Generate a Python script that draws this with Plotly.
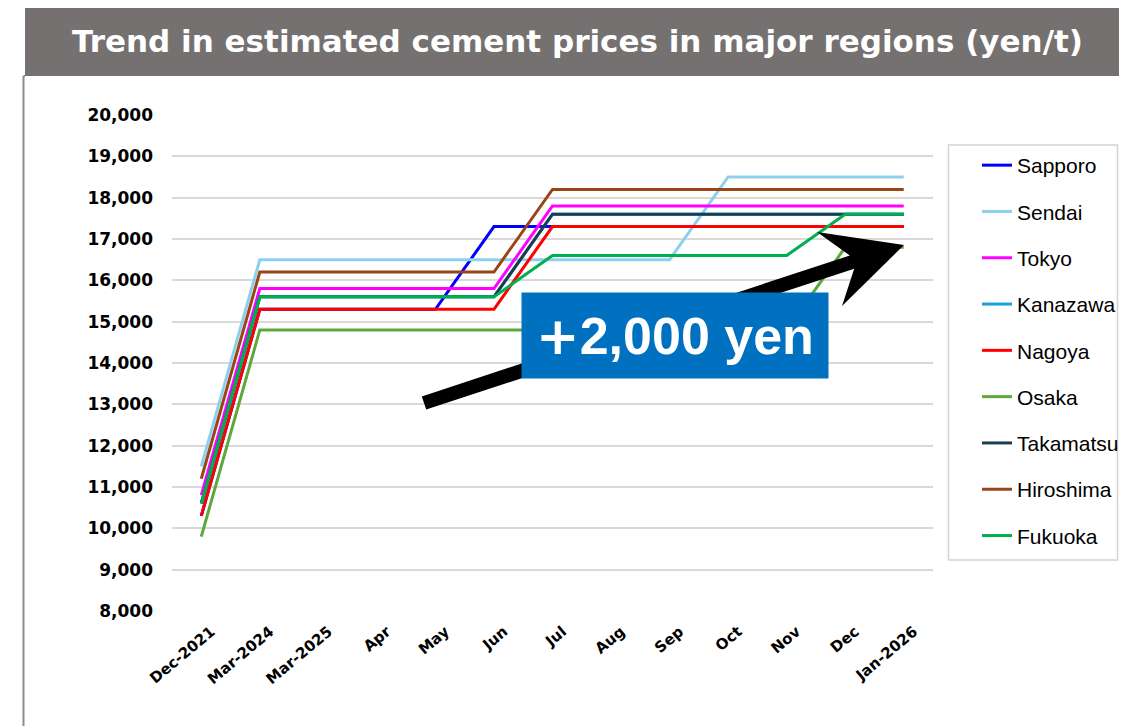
import plotly.graph_objects as go

categories = ["Dec-2021", "Mar-2024", "Mar-2025", "Apr", "May", "Jun", "Jul",
              "Aug", "Sep", "Oct", "Nov", "Dec", "Jan-2026"]

sapporo   = [10300, 15300, 15300, 15300, 15300, 17300, 17300, 17300, 17300, 17300, 17300, 17300, 17300]
sendai    = [11500, 16500, 16500, 16500, 16500, 16500, 16500, 16500, 16500, 18500, 18500, 18500, 18500]
tokyo     = [10800, 15800, 15800, 15800, 15800, 15800, 17800, 17800, 17800, 17800, 17800, 17800, 17800]
kanazawa  = [10600, 15600, 15600, 15600, 15600, 15600, 17600, 17600, 17600, 17600, 17600, 17600, 17600]
nagoya    = [10300, 15300, 15300, 15300, 15300, 15300, 17300, 17300, 17300, 17300, 17300, 17300, 17300]
osaka     = [9800, 14800, 14800, 14800, 14800, 14800, 14800, 14800, 14800, 14800, 14800, 16800, 16800]
takamatsu = [10600, 15600, 15600, 15600, 15600, 15600, 17600, 17600, 17600, 17600, 17600, 17600, 17600]
hiroshima = [11200, 16200, 16200, 16200, 16200, 16200, 18200, 18200, 18200, 18200, 18200, 18200, 18200]
fukuoka   = [10600, 15600, 15600, 15600, 15600, 15600, 16600, 16600, 16600, 16600, 16600, 17600, 17600]

series = [
    ("Sapporo", sapporo, "#0000FF"),
    ("Sendai", sendai, "#8CCFEE"),
    ("Tokyo", tokyo, "#FF00FF"),
    ("Kanazawa", kanazawa, "#1AA0DA"),
    ("Nagoya", nagoya, "#FF0000"),
    ("Osaka", osaka, "#5CA83C"),
    ("Takamatsu", takamatsu, "#1B3D52"),
    ("Hiroshima", hiroshima, "#9A4518"),
    ("Fukuoka", fukuoka, "#00B050"),
]

y_ticks = list(range(8000, 20001, 1000))
y_tick_text = [f"{v:,}" for v in y_ticks]

title_text = "Trend in estimated cement prices in major regions (yen/t)"
callout_plus = "+"
callout_text = "2,000 yen"

# page body adds an 8px margin; work in reference-pixel coordinates
OFF = 8
W, H = 1127 - OFF, 726 - OFF
PLOT_L, PLOT_R, PLOT_T, PLOT_B = 172, 933, 115, 611   # reference pixels
L, R = PLOT_L - OFF, W - (PLOT_R - OFF)
T, B = PLOT_T - OFF, H - (PLOT_B - OFF)
PW, PH = PLOT_R - PLOT_L, PLOT_B - PLOT_T


def px(x):
    return (x - PLOT_L) / PW


def py(y):
    return (PLOT_B - y) / PH


def cx(x):
    return (x - OFF) / W


def cy(y):
    return 1 - (y - OFF) / H


fig = go.Figure()
for i, (name, vals, color) in enumerate(series):
    fig.add_trace(go.Scatter(
        x=categories, y=vals, name=name, mode="lines",
        line=dict(color=color, width=3),
        legendgroup=f"g{i}",
    ))

# stealth arrow polygon (decoration, reference pixel coords)
arrow_pts = [(421.8, 396.4), (849.8, 255.4), (817, 232), (904, 245),
             (842, 306), (854.2, 268.7), (426.2, 409.6)]
arrow_path = "M " + " L ".join(f"{px(x):.5f},{py(y):.5f}" for x, y in arrow_pts) + " Z"

shapes = [
    dict(type="rect", xref="paper", yref="paper", x0=px(25), x1=px(1130), y0=py(76), y1=py(3),
         fillcolor="#767171", line=dict(width=0), layer="above"),
    dict(type="line", xref="paper", yref="paper", x0=px(23.5), x1=px(23.5), y0=py(76), y1=py(730),
         line=dict(color="#8C8C8C", width=2), layer="above"),
    dict(type="line", xref="paper", yref="paper", x0=px(23.5), x1=px(25), y0=py(76), y1=py(76),
         line=dict(color="#8C8C8C", width=2), layer="above"),
    dict(type="rect", xref="paper", yref="paper", x0=px(948.5), x1=px(1117.5), y0=py(560), y1=py(145),
         fillcolor="rgba(0,0,0,0)", line=dict(color="#D4D4D4", width=1.5), layer="above"),
    dict(type="path", xref="paper", yref="paper", path=arrow_path,
         fillcolor="#000000", line=dict(width=0), layer="above"),
]

annotations = [
    dict(text=f"<b>{title_text}</b>", xref="paper", yref="paper", x=px(577), y=py(41),
         xanchor="center", yanchor="middle", showarrow=False,
         font=dict(family="DejaVu Sans, sans-serif", size=31, color="white")),
    dict(text=f"<b><span style='font-family:DejaVu Sans'>{callout_plus}</span>{callout_text}</b>",
         xref="paper", yref="paper", x=px(675), y=py(335.5),
         xanchor="center", yanchor="middle", showarrow=False,
         width=306, height=85, borderpad=0, bgcolor="#0070C0",
         font=dict(family="Liberation Sans, Arial, sans-serif", size=52, color="white")),
]

fig.update_layout(
    width=W, height=H,
    margin=dict(l=L, r=R, t=T, b=B, autoexpand=False),
    paper_bgcolor="white", plot_bgcolor="white",
    showlegend=True,
    legend=dict(
        xref="container", yref="container",
        x=cx(977), y=cy(145), xanchor="left", yanchor="top",
        font=dict(family="Liberation Sans, Arial, sans-serif", size=21, color="black"),
        tracegroupgap=16, itemwidth=30, bgcolor="rgba(0,0,0,0)", borderwidth=0,
        traceorder="grouped", maxheight=600,
    ),
    xaxis=dict(
        type="category", categoryorder="array", categoryarray=categories,
        range=[-0.5, len(categories) - 0.5], automargin=False,
        showgrid=False, showline=False, zeroline=False, ticks="",
        tickangle=-40, ticklabelstandoff=8, ticklabelshift=10,
        tickfont=dict(family="DejaVu Sans, sans-serif", size=15, color="black", weight="bold"),
    ),
    yaxis=dict(
        range=[8000, 20000], tickvals=y_ticks, ticktext=y_tick_text, automargin=False,
        showgrid=True, gridcolor="#D9D9D9", gridwidth=1.5,
        showline=False, zeroline=False, ticks="", ticklabelstandoff=18,
        tickfont=dict(family="DejaVu Sans, sans-serif", size=17, color="black", weight="bold"),
    ),
    shapes=shapes,
    annotations=annotations,
)

fig.write_html("out.html")
